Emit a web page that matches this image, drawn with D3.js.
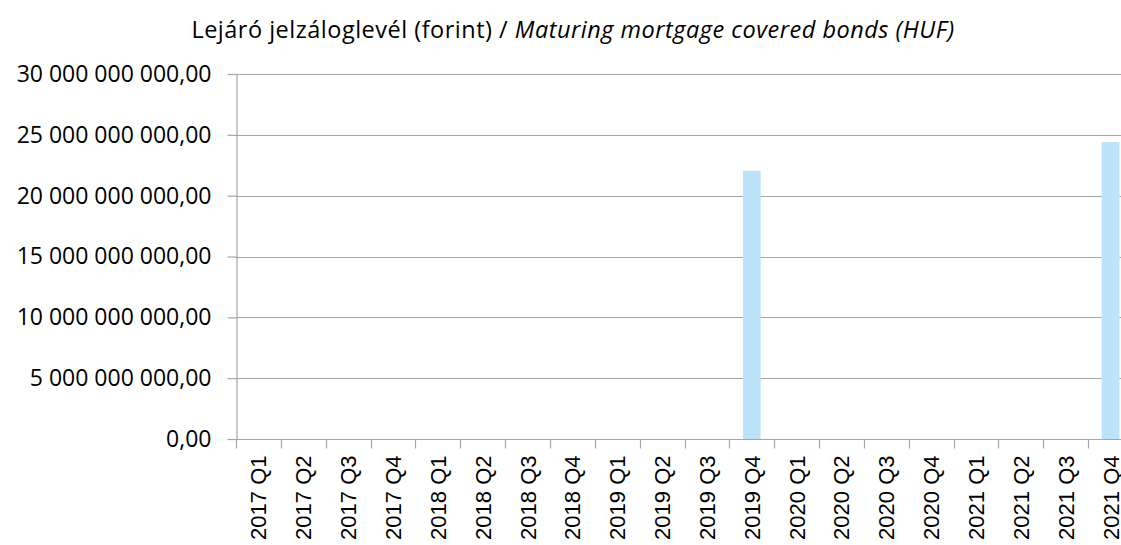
<!DOCTYPE html>
<html>
<head>
<meta charset="utf-8">
<script src="https://cdn.jsdelivr.net/npm/d3@7"></script>
<style>
  body { margin: 0; background: #fff; }
  svg { display: block; }
</style>
</head>
<body>
<svg width="1121" height="545"></svg>
<script>
// data
var categories = ["2017 Q1", "2017 Q2", "2017 Q3", "2017 Q4",
                  "2018 Q1", "2018 Q2", "2018 Q3", "2018 Q4",
                  "2019 Q1", "2019 Q2", "2019 Q3", "2019 Q4",
                  "2020 Q1", "2020 Q2", "2020 Q3", "2020 Q4",
                  "2021 Q1", "2021 Q2", "2021 Q3", "2021 Q4"];
var values = [0, 0, 0, 0,
              0, 0, 0, 0,
              0, 0, 0, 22.05e9,
              0, 0, 0, 0,
              0, 0, 0, 24.4e9];
var yTicks = [0, 5e9, 10e9, 15e9, 20e9, 25e9, 30e9];

var svgWidth = 1121, svgHeight = 545;
var plotLeft = 236, plotTop = 74, plotBottom = 439;
var step = 44.85;

var svg = d3.select("svg");

var xScale = d3.scaleBand().domain(categories).range([plotLeft, plotLeft + step * categories.length]).padding(0),
    yScale = d3.scaleLinear().domain([0, 30e9]).range([plotBottom, plotTop]);

function fmt(v) {
    // 30000000000 -> "30 000 000 000,00"
    return d3.format(",.2f")(v).replace(/,/g, " ").replace(".", ",");
}

// title
var title = svg.append("text")
    .attr("x", 573)
    .attr("y", 38)
    .attr("text-anchor", "middle")
    .style("font-family", "'Open Sans', sans-serif")
    .style("font-size", "23.5px")
    .style("letter-spacing", "0.5px")
    .style("fill", "#000");
title.append("tspan").text("Lejáró jelzáloglevél (forint) / ");
title.append("tspan").style("font-style", "italic").text("Maturing mortgage covered bonds (HUF)");

// gridlines
svg.append("g")
    .selectAll("line")
    .data(yTicks.slice(1))
    .enter().append("line")
    .attr("x1", plotLeft)
    .attr("x2", svgWidth)
    .attr("y1", function(d) { return Math.round(yScale(d)) + 0.5; })
    .attr("y2", function(d) { return Math.round(yScale(d)) + 0.5; })
    .attr("stroke", "#a6a6a6")
    .attr("stroke-width", 1.2);

// bars
var barW = xScale.bandwidth() * 0.395;
svg.selectAll(".bar")
    .data(values)
    .enter().append("rect")
    .attr("class", "bar")
    .attr("x", function(d, i) { return xScale(categories[i]) + (xScale.bandwidth() - barW) / 2; })
    .attr("y", function(d) { return yScale(d); })
    .attr("width", barW)
    .attr("height", function(d) { return plotBottom - yScale(d); })
    .attr("fill", "#bde3f8");

// y axis
var yAxis = svg.append("g")
    .attr("transform", "translate(" + (plotLeft + 0.5) + ",0)")
    .call(d3.axisLeft(yScale).tickValues(yTicks).tickFormat(fmt).tickSize(9).tickSizeOuter(0).tickPadding(16));
yAxis.select(".domain").attr("stroke", "#a6a6a6").attr("stroke-width", 1.2);
yAxis.selectAll(".tick line").attr("stroke", "#a6a6a6").attr("stroke-width", 1.2);
yAxis.selectAll(".tick text")
    .style("font-family", "'Open Sans', sans-serif")
    .style("font-size", "23px")
    .style("fill", "#000");

// x axis: ticks at band boundaries
var xg = svg.append("g").attr("transform", "translate(0," + (plotBottom + 0.5) + ")");
xg.append("line")
    .attr("x1", plotLeft)
    .attr("x2", svgWidth)
    .attr("stroke", "#a6a6a6")
    .attr("stroke-width", 1.2);
xg.selectAll(".xtick")
    .data(categories)
    .enter().append("line")
    .attr("class", "xtick")
    .attr("x1", function(d) { return Math.round(xScale(d)) + 0.5; })
    .attr("x2", function(d) { return Math.round(xScale(d)) + 0.5; })
    .attr("y1", 0)
    .attr("y2", 9)
    .attr("stroke", "#a6a6a6")
    .attr("stroke-width", 1.2);
xg.selectAll(".xlabel")
    .data(categories)
    .enter().append("text")
    .attr("class", "xlabel")
    .attr("transform", function(d) {
        return "translate(" + (xScale(d) + xScale.bandwidth() / 2 + 8) + ",16) rotate(-90)";
    })
    .attr("text-anchor", "end")
    .style("font-family", "'Liberation Sans', Arial, sans-serif")
    .style("font-size", "22px")
    .style("fill", "#000")
    .text(function(d) { return d; });
</script>
</body>
</html>
